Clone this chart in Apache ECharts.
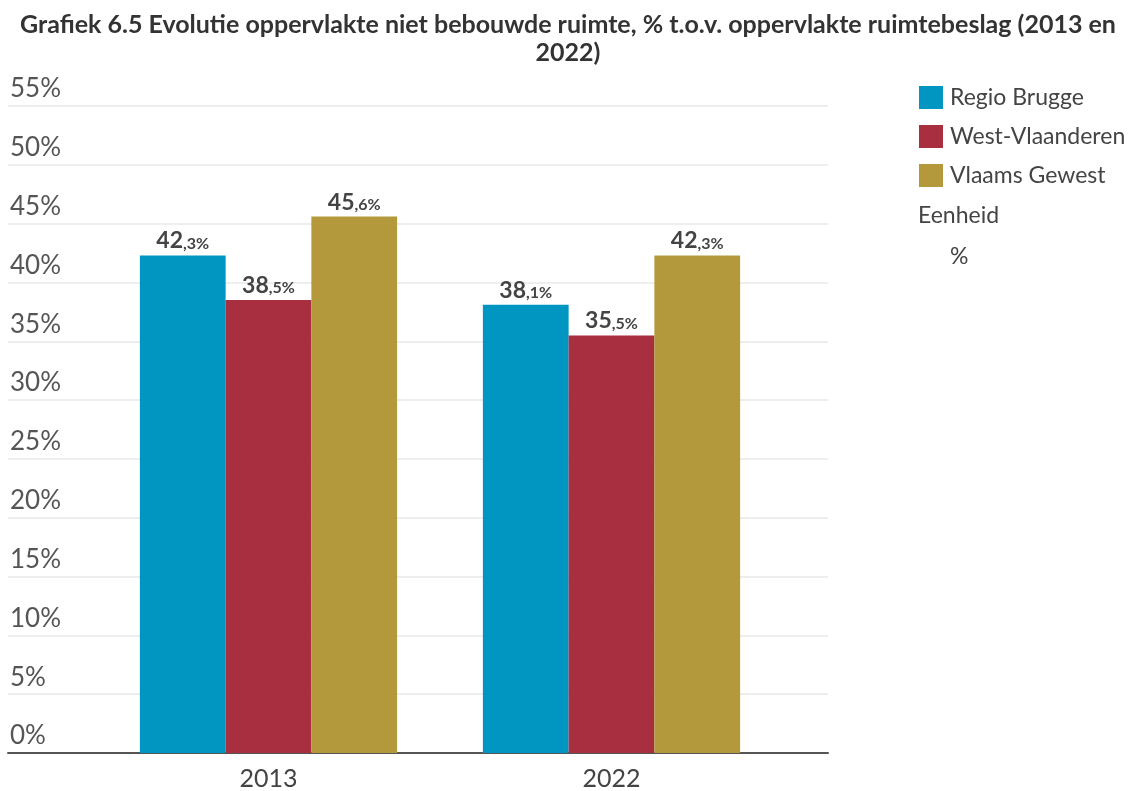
<!DOCTYPE html>
<html><head><meta charset="utf-8">
<script src="https://cdn.jsdelivr.net/npm/echarts@6/dist/echarts.min.js"></script>
<style>html,body{margin:0;padding:0;background:#fff}#c{width:1136px;height:791px}</style>
</head><body><div id="c"></div>
<script>
const categories = ['2013', '2022'];
const regioBrugge = [42.3, 38.1];
const westVlaanderen = [38.5, 35.5];
const vlaamsGewest = [45.6, 42.3];
const seriesNames = ['Regio Brugge', 'West-Vlaanderen', 'Vlaams Gewest'];
const colors = ['#0096c1', '#a72f3f', '#b3993c'];
const titleText = 'Grafiek 6.5 Evolutie oppervlakte niet bebouwde ruimte, % t.o.v. oppervlakte ruimtebeslag (2013 en\n2022)';

const FONT = 'Lato, "Noto Sans", sans-serif';
function lbl(p) {
  const parts = p.value.toFixed(1).split('.');
  return '{a|' + parts[0] + '}{b|,' + parts[1] + '%}';
}
const labelCfg = {
  show: true, position: 'top', distance: 3, formatter: lbl,
  rich: {
    a: {fontFamily: FONT, fontWeight: 'bold', fontSize: 23, color: '#444'},
    b: {fontFamily: FONT, fontWeight: 'bold', fontSize: 16, color: '#444', padding: [5,0,0,0]}
  }
};
const dataSets = [regioBrugge, westVlaanderen, vlaamsGewest];
const chart = echarts.init(document.getElementById('c'));
chart.setOption({
  animation: false,
  title: {
    text: titleText, left: 'center', top: 6,
    textStyle: {fontFamily: FONT, fontWeight: 'bold', fontSize: 25, color: '#333', lineHeight: 28, align: 'center'}
  },
  legend: {
    orient: 'vertical', left: 914, top: 81, itemWidth: 24, itemHeight: 23, itemGap: 16,
    icon: 'rect', data: seriesNames,
    textStyle: {fontFamily: FONT, fontSize: 23, color: '#444', padding: [0,0,0,2]}
  },
  graphic: [
    {type: 'text', left: 918, top: 204, style: {text: 'Eenheid', font: '23px ' + FONT, fill: '#444'}},
    {type: 'text', left: 950, top: 245, style: {text: '%', font: '23px ' + FONT, fill: '#444'}}
  ],
  grid: [
    {left: 8, right: 308, top: 106, bottom: 38},
    {left: 97, right: 353, top: 106, bottom: 38}
  ],
  xAxis: [
    {gridIndex: 0, type: 'value', min: 0, max: 1, axisLabel: {show: false}, axisTick: {show: false},
     splitLine: {show: false}, axisLine: {show: true, onZero: false, lineStyle: {color: '#555', width: 2}}},
    {gridIndex: 1, type: 'category', data: categories, axisLine: {show: false}, axisTick: {show: false},
     axisLabel: {margin: 13, fontFamily: FONT, fontSize: 25, color: '#444'}}
  ],
  yAxis: [
    {gridIndex: 0, type: 'value', min: 0, max: 55, interval: 5,
     axisLine: {show: false}, axisTick: {show: false},
     splitLine: {lineStyle: {color: '#e8e8e8', width: 1.5}},
     axisLabel: {inside: true, margin: 2, verticalAlign: 'bottom', padding: [0,0,4,0],
       formatter: '{value}%', fontFamily: FONT, fontSize: 26, color: '#555'}},
    {gridIndex: 1, type: 'value', min: 0, max: 55, interval: 5, show: false, splitLine: {show: false}}
  ],
  series: seriesNames.map((n, i) => ({
    name: n, type: 'bar', xAxisIndex: 1, yAxisIndex: 1, data: dataSets[i],
    barGap: '0%', barCategoryGap: '25%', itemStyle: {color: colors[i]}, label: labelCfg
  }))
});
</script></body></html>
